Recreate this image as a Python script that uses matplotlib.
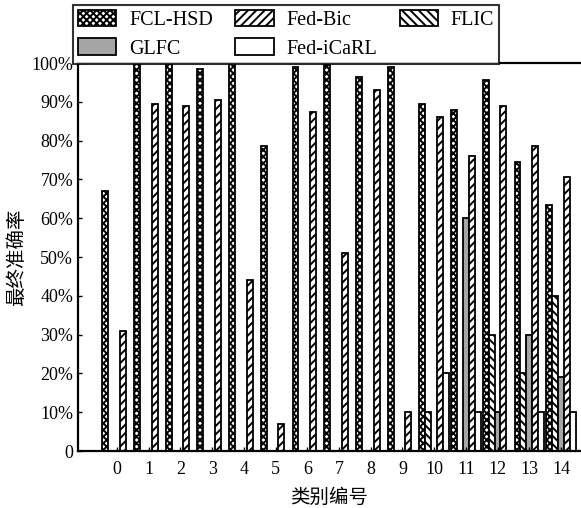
import matplotlib
matplotlib.use("Agg")
import matplotlib.pyplot as plt
import numpy as np
from matplotlib.patches import Patch

plt.rcParams['font.family'] = ['Liberation Serif', 'Noto Sans CJK SC']
plt.rcParams['hatch.linewidth'] = 1.4

classes = list(range(15))
class_labels = [str(c) for c in classes]
fcl_hsd = [67, 100, 100, 98.5, 100, 78.5, 99, 99.5, 96.5, 99, 89.5, 88, 95.5, 74.5, 63.5]
fed_bic = [31, 89.5, 89, 90.5, 44, 7, 87.5, 51, 93, 10, 86, 76, 89, 78.5, 70.5]
flic = [0, 0, 0, 0, 0, 0, 0, 0, 0, 0, 10, 0, 30, 20, 40]
glfc = [0, 0, 0, 0, 0, 0, 0, 0, 0, 0, 0, 60, 10, 30, 19]
fed_icarl = [0, 0, 0, 0, 0, 0, 0, 0, 0, 0, 20, 10, 0, 10, 10]
y_ticks = [0, 10, 20, 30, 40, 50, 60, 70, 80, 90, 100]

fig = plt.figure(figsize=(5.81, 5.08), dpi=100)
ax = fig.add_axes([78/581, 57/508, (580-78)/581, (451-63)/508])

x = np.arange(len(classes))
w = 0.185
series = [
    ("FCL-HSD", fcl_hsd, -2, dict(facecolor='white', hatch='xxxxx')),
    ("FLIC", flic, -1, dict(facecolor='white', hatch='\\\\\\\\')),
    ("GLFC", glfc, 0, dict(facecolor='#a6a6a6')),
    ("Fed-Bic", fed_bic, 1, dict(facecolor='white', hatch='////')),
    ("Fed-iCaRL", fed_icarl, 2, dict(facecolor='white')),
]
handles = {}
for name, vals, off, style in series:
    v = np.array(vals, dtype=float)
    mask = v > 0
    ax.bar(x[mask] + off * w, v[mask], width=w, edgecolor='black', linewidth=1.3, **style)
    handles[name] = Patch(edgecolor='black', linewidth=1.3, **style)

ax.set_xlim(-1.23, 14.6)
ax.set_ylim(0, 100)
ax.set_xticks(x)
ax.set_xticklabels(class_labels, fontsize=13)
ax.set_yticks(y_ticks)
ax.set_yticklabels(["0" if t == 0 else f"{t}%" for t in y_ticks], fontsize=13)
ax.tick_params(axis='both', direction='in', length=3, width=1)
ax.tick_params(axis='x', pad=7)
for s in ['left', 'bottom', 'top']:
    ax.spines[s].set_linewidth(1.6)
ax.spines['right'].set_visible(False)

ax.set_xlabel("类别编号", fontsize=14, labelpad=8)
ax.set_ylabel("最终准确率", fontsize=14, labelpad=4)

order = ["FCL-HSD", "GLFC", "Fed-Bic", "Fed-iCaRL", "FLIC"]
leg = fig.legend([handles[n] for n in order], order, ncol=3, loc='upper left',
                 bbox_to_anchor=(73/581, 1 - 5/508), frameon=True, fancybox=False,
                 fontsize=14.5, handlelength=1.9, handleheight=0.85, columnspacing=1.1,
                 handletextpad=0.65, borderpad=0.25, labelspacing=0.42, borderaxespad=0)
leg.get_frame().set_edgecolor('black')
leg.get_frame().set_linewidth(1.5)

fig.savefig("out.png", dpi=100)
